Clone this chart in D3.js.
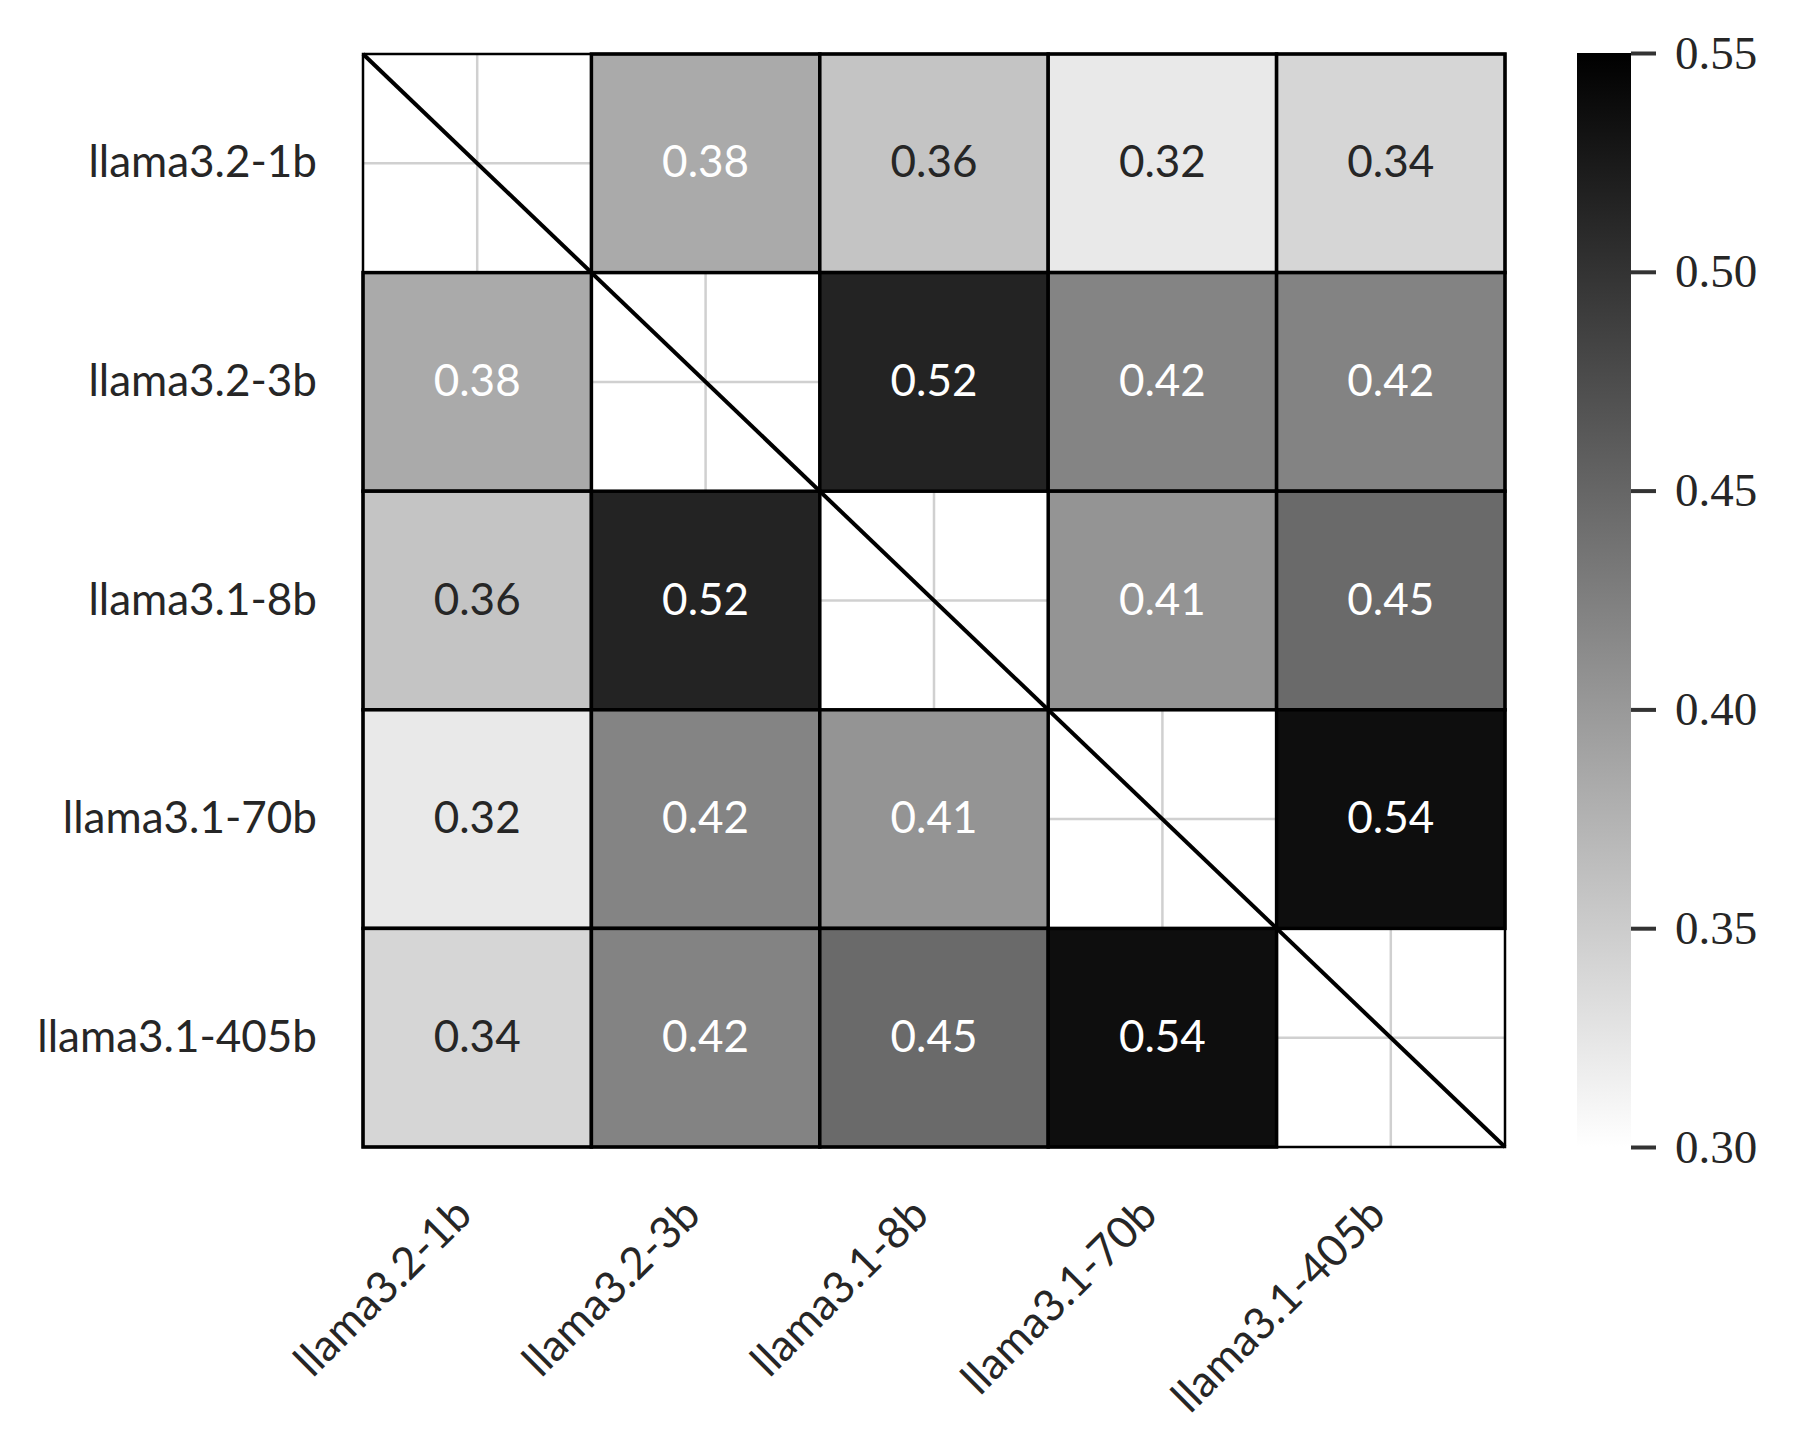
<!DOCTYPE html>
<html>
<head>
<meta charset="utf-8">
<script src="https://cdn.jsdelivr.net/npm/d3@7"></script>
<style>
  body { margin: 0; background: #fff; }
</style>
</head>
<body>
<div id="chart"></div>
<script>
// models on both axes
var models = ["llama3.2-1b", "llama3.2-3b", "llama3.1-8b", "llama3.1-70b", "llama3.1-405b"];

// pairwise values, diagonal left empty (masked)
var row1b   = [null, 0.383, 0.358, 0.322, 0.340];
var row3b   = [0.383, null, 0.516, 0.421, 0.422];
var row8b   = [0.358, 0.516, null, 0.405, 0.446];
var row70b  = [0.322, 0.421, 0.405, null, 0.536];
var row405b = [0.340, 0.422, 0.446, 0.536, null];
var rows = [row1b, row3b, row8b, row70b, row405b];

var colorTicks = [0.30, 0.35, 0.40, 0.45, 0.50, 0.55];
var vmin = 0.30, vmax = 0.55;

var W = 1797, H = 1456;
var plotLeft = 363, plotRight = 1505, plotTop = 54, plotBottom = 1147;

var svg = d3.select("#chart")
    .append("svg")
    .attr("width", W)
    .attr("height", H);

var x = d3.scaleBand().domain(models).range([plotLeft, plotRight]);
var y = d3.scaleBand().domain(models).range([plotTop, plotBottom]);

var color = d3.scaleLinear().domain([vmin, vmax]).range(["#ffffff", "#000000"]).clamp(true);

var cells = [];
rows.forEach(function(r, i) {
  r.forEach(function(v, j) {
    cells.push({row: models[i], col: models[j], value: v});
  });
});
var filled = cells.filter(function(d) { return d.value !== null; });

// grid lines under the heatmap (only visible in the masked cells)
var grid = svg.append("g");
models.forEach(function(m) {
  grid.append("line")
    .attr("x1", x(m) + x.bandwidth() / 2).attr("x2", x(m) + x.bandwidth() / 2)
    .attr("y1", plotTop).attr("y2", plotBottom)
    .attr("stroke", "#d0d0d0").attr("stroke-width", 2.5);
  grid.append("line")
    .attr("y1", y(m) + y.bandwidth() / 2).attr("y2", y(m) + y.bandwidth() / 2)
    .attr("x1", plotLeft).attr("x2", plotRight)
    .attr("stroke", "#d0d0d0").attr("stroke-width", 2.5);
});

// cells
svg.append("g").selectAll("rect")
  .data(filled)
  .enter()
  .append("rect")
    .attr("x", function(d) { return x(d.col); })
    .attr("y", function(d) { return y(d.row); })
    .attr("width", x.bandwidth())
    .attr("height", y.bandwidth())
    .attr("fill", function(d) { return color(d.value); })
    .attr("stroke", "#000")
    .attr("stroke-width", 3.5);

// annotations, dark or light by luminance like seaborn
function lum(c) {
  var rgb = d3.rgb(c);
  var f = function(u) { u = u / 255; return u <= 0.03928 ? u / 12.92 : Math.pow((u + 0.055) / 1.055, 2.4); };
  return 0.2126 * f(rgb.r) + 0.7152 * f(rgb.g) + 0.0722 * f(rgb.b);
}

svg.append("g").selectAll("text")
  .data(filled)
  .enter()
  .append("text")
    .attr("x", function(d) { return x(d.col) + x.bandwidth() / 2; })
    .attr("y", function(d) { return y(d.row) + y.bandwidth() / 2 + 14; })
    .attr("text-anchor", "middle")
    .style("font-family", "Lato")
    .style("font-size", "44px")
    .attr("fill", function(d) { return lum(color(d.value)) > 0.408 ? "#262626" : "#ffffff"; })
    .text(function(d) { return d3.format(".2f")(d.value); });

// frame and diagonal
svg.append("rect")
  .attr("x", plotLeft).attr("y", plotTop)
  .attr("width", plotRight - plotLeft).attr("height", plotBottom - plotTop)
  .attr("fill", "none").attr("stroke", "#000").attr("stroke-width", 2.5);

svg.append("line")
  .attr("x1", plotLeft).attr("y1", plotTop)
  .attr("x2", plotRight).attr("y2", plotBottom)
  .attr("stroke", "#000").attr("stroke-width", 4);

// y labels
svg.append("g").selectAll("text")
  .data(models)
  .enter()
  .append("text")
    .attr("x", plotLeft - 46)
    .attr("y", function(d) { return y(d) + y.bandwidth() / 2 + 14; })
    .attr("text-anchor", "end")
    .style("font-family", "Lato")
    .style("font-size", "44px")
    .attr("fill", "#262626")
    .text(function(d) { return d; });

// x labels, rotated 45
svg.append("g").selectAll("text")
  .data(models)
  .enter()
  .append("text")
    .attr("transform", function(d) {
      var px = x(d) + x.bandwidth() / 2 - 3, py = plotBottom + 70;
      return "translate(" + px + "," + py + ")rotate(-45)";
    })
    .attr("text-anchor", "end")
    .style("font-family", "Lato")
    .style("font-size", "44px")
    .attr("fill", "#262626")
    .text(function(d) { return d; });

// colorbar
var cbLeft = 1577, cbWidth = 54;
var cy = d3.scaleLinear().domain([vmin, vmax]).range([plotBottom, plotTop - 1]);

var defs = svg.append("defs");
var grad = defs.append("linearGradient")
  .attr("id", "cbgrad")
  .attr("x1", "0").attr("y1", "1").attr("x2", "0").attr("y2", "0");
grad.append("stop").attr("offset", "0%").attr("stop-color", color(vmin));
grad.append("stop").attr("offset", "100%").attr("stop-color", color(vmax));

svg.append("rect")
  .attr("x", cbLeft).attr("y", cy(vmax))
  .attr("width", cbWidth).attr("height", cy(vmin) - cy(vmax))
  .attr("fill", "url(#cbgrad)");

var cbAxis = svg.append("g")
  .attr("transform", "translate(" + (cbLeft + cbWidth) + ",0)")
  .call(d3.axisRight(cy).tickValues(colorTicks).tickSize(25).tickPadding(19).tickFormat(d3.format(".2f")));
cbAxis.select(".domain").remove();
cbAxis.selectAll(".tick line").attr("stroke", "#333").attr("stroke-width", 4);
cbAxis.selectAll(".tick text")
  .style("font-family", "Liberation Serif")
  .style("font-size", "47px")
  .attr("fill", "#262626");
</script>
</body>
</html>
